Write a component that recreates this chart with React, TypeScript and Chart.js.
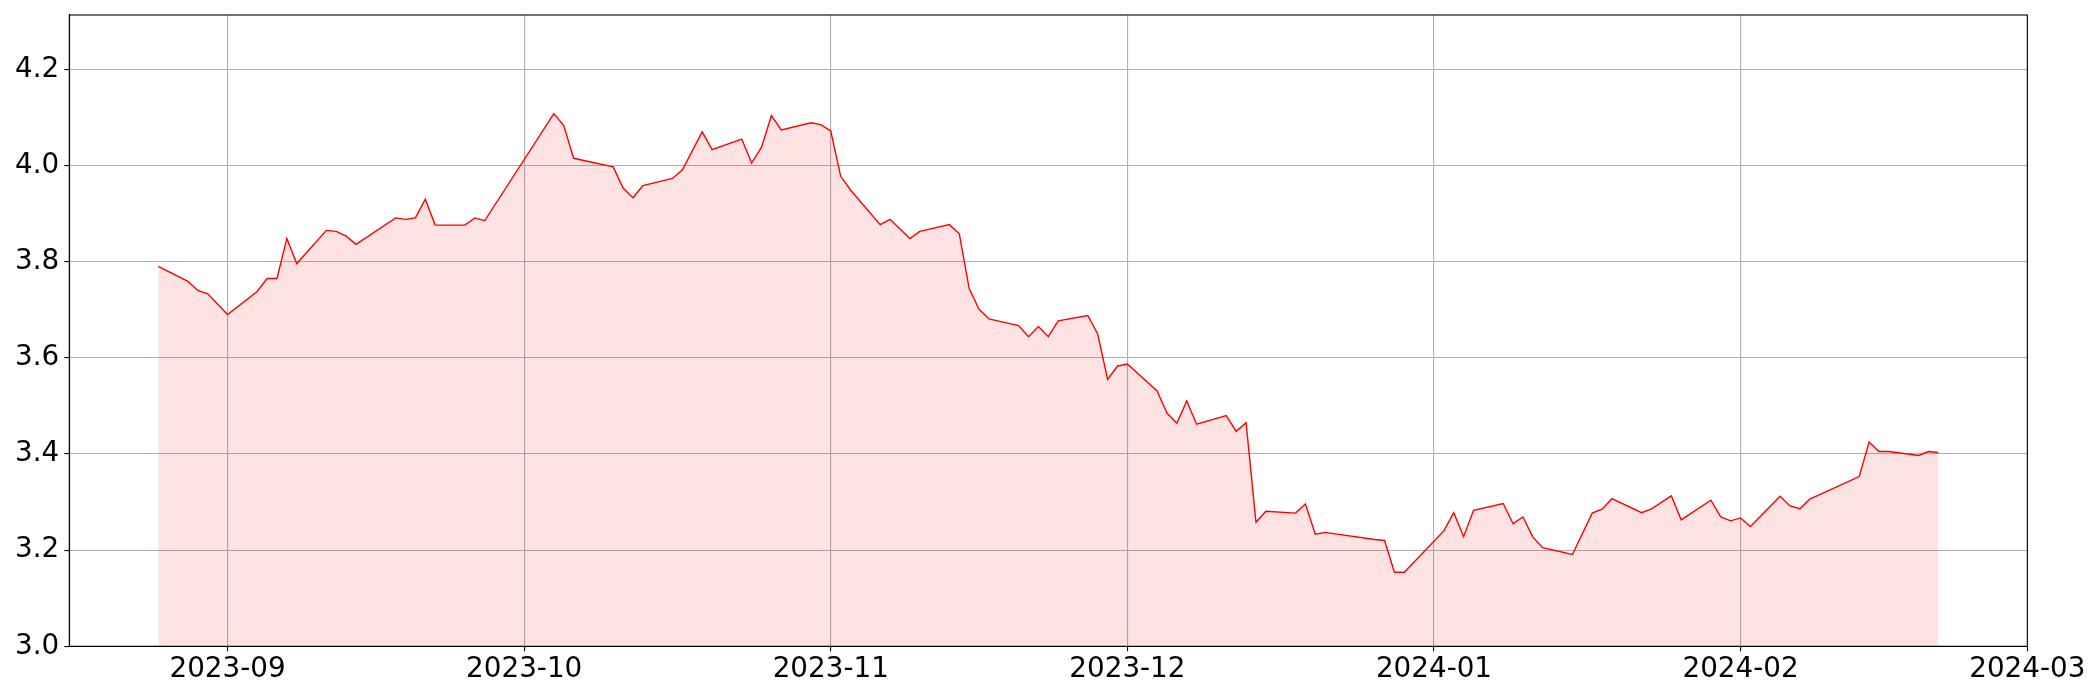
import React, { useEffect, useRef } from "react";
import { Chart, registerables } from "chart.js";

Chart.register(...registerables);

const dates: string[] = [
  "2023-08-25", "2023-08-28", "2023-08-29", "2023-08-30", "2023-09-01",
  "2023-09-04", "2023-09-05", "2023-09-06", "2023-09-07", "2023-09-08",
  "2023-09-11", "2023-09-12", "2023-09-13", "2023-09-14", "2023-09-18",
  "2023-09-19", "2023-09-20", "2023-09-21", "2023-09-22", "2023-09-25",
  "2023-09-26", "2023-09-27", "2023-10-04", "2023-10-05", "2023-10-06",
  "2023-10-10", "2023-10-11", "2023-10-12", "2023-10-13", "2023-10-16",
  "2023-10-17", "2023-10-19", "2023-10-20", "2023-10-23", "2023-10-24",
  "2023-10-25", "2023-10-26", "2023-10-27", "2023-10-30", "2023-10-31",
  "2023-11-01", "2023-11-02", "2023-11-03", "2023-11-06", "2023-11-07",
  "2023-11-09", "2023-11-10", "2023-11-13", "2023-11-14", "2023-11-15",
  "2023-11-16", "2023-11-17", "2023-11-20", "2023-11-21", "2023-11-22",
  "2023-11-23", "2023-11-24", "2023-11-27", "2023-11-28", "2023-11-29",
  "2023-11-30", "2023-12-01", "2023-12-04", "2023-12-05", "2023-12-06",
  "2023-12-07", "2023-12-08", "2023-12-11", "2023-12-12", "2023-12-13",
  "2023-12-14", "2023-12-15", "2023-12-18", "2023-12-19", "2023-12-20",
  "2023-12-21", "2023-12-26", "2023-12-27", "2023-12-28", "2023-12-29",
  "2024-01-02", "2024-01-03", "2024-01-04", "2024-01-05", "2024-01-08",
  "2024-01-09", "2024-01-10", "2024-01-11", "2024-01-12", "2024-01-15",
  "2024-01-17", "2024-01-18", "2024-01-19", "2024-01-22", "2024-01-23",
  "2024-01-25", "2024-01-26", "2024-01-29", "2024-01-30", "2024-01-31",
  "2024-02-01", "2024-02-02", "2024-02-05", "2024-02-06", "2024-02-07",
  "2024-02-08", "2024-02-13", "2024-02-14", "2024-02-15", "2024-02-16",
  "2024-02-19", "2024-02-20", "2024-02-21",
];

const values: number[] = [
  3.790, 3.759, 3.740, 3.733, 3.690,
  3.738, 3.765, 3.765, 3.848, 3.796,
  3.865, 3.863, 3.853, 3.836, 3.891,
  3.888, 3.891, 3.930, 3.876, 3.876,
  3.891, 3.885, 4.108, 4.083, 4.015,
  3.997, 3.953, 3.933, 3.958, 3.973,
  3.991, 4.070, 4.033, 4.055, 4.005,
  4.038, 4.104, 4.074, 4.089, 4.085,
  4.072, 3.978, 3.949, 3.877, 3.888,
  3.848, 3.863, 3.877, 3.858, 3.744,
  3.701, 3.681, 3.667, 3.644, 3.665,
  3.644, 3.677, 3.688, 3.649, 3.555,
  3.583, 3.587, 3.531, 3.485, 3.464,
  3.510, 3.462, 3.480, 3.447, 3.465,
  3.258, 3.281, 3.277, 3.296, 3.233,
  3.237, 3.222, 3.220, 3.154, 3.154,
  3.240, 3.278, 3.228, 3.283, 3.297,
  3.255, 3.269, 3.227, 3.205, 3.191,
  3.277, 3.285, 3.307, 3.278, 3.286,
  3.313, 3.263, 3.304, 3.269, 3.261,
  3.267, 3.249, 3.312, 3.292, 3.286,
  3.306, 3.353, 3.425, 3.405, 3.405,
  3.397, 3.405, 3.403,
];

const xTickLabels: string[] = [
  "2023-09", "2023-10", "2023-11", "2023-12", "2024-01", "2024-02", "2024-03",
];

const yTickValues: number[] = [3.0, 3.2, 3.4, 3.6, 3.8, 4.0, 4.2];

const DAY = 86400000;
const toDay = (s: string): number => {
  const [y, m, d] = s.split("-").map(Number);
  return Date.UTC(y, m - 1, d || 1) / DAY;
};
const fromDay = (v: number): string => {
  const dt = new Date(Math.round(v) * DAY);
  const mm = String(dt.getUTCMonth() + 1).padStart(2, "0");
  return `${dt.getUTCFullYear()}-${mm}`;
};

const frame = {
  id: "frame",
  afterDraw(chart: any) {
    const { ctx } = chart;
    const xs = chart.scales.x;
    const ys = chart.scales.y;
    ctx.save();
    ctx.strokeStyle = "#000";
    ctx.lineWidth = 1.1;
    ctx.strokeRect(xs.left, ys.top, xs.right - xs.left, ys.bottom - ys.top);
    ctx.restore();
  },
};

export default function App() {
  const ref = useRef<HTMLCanvasElement | null>(null);

  useEffect(() => {
    document.body.style.margin = "0";
    const canvas = ref.current;
    if (!canvas) return;
    const xs = dates.map(toDay);
    const span = xs[xs.length - 1] - xs[0];
    const xMin = xs[0] - span * 0.05;
    const xMax = xs[xs.length - 1] + span * 0.05;
    const monthTicks = xTickLabels.map(toDay);
    const font = { family: "'DejaVu Sans'", size: 27.8 };

    const chart = new Chart(canvas, {
      type: "line",
      data: {
        datasets: [
          {
            data: xs.map((x, i) => ({ x, y: values[i] })),
            borderColor: "#ff0000",
            borderWidth: 1.4,
            backgroundColor: "rgba(255, 0, 0, 0.11)",
            fill: "origin",
            pointRadius: 0,
            tension: 0,
          },
        ],
      },
      options: {
        responsive: false,
        animation: false,
        devicePixelRatio: 1,
        layout: { padding: { left: 0, right: 72.7, top: 15, bottom: 0 } },
        plugins: {
          legend: { display: false },
          tooltip: { enabled: false },
        },
        scales: {
          x: {
            type: "linear",
            min: xMin,
            max: xMax,
            afterBuildTicks: (scale: any) => {
              scale.ticks = monthTicks.map((v) => ({ value: v }));
            },
            afterFit: (scale: any) => {
              scale.height = 53.7;
              scale.paddingLeft = 0;
              scale.paddingRight = 0;
              scale.paddingTop = 0;
              scale.paddingBottom = 0;
            },
            grid: {
              color: "#b0b0b0",
              lineWidth: 1.1,
              drawTicks: true,
              tickLength: 5,
              tickColor: "#000",
              tickWidth: 1.1,
            },
            border: { display: true, color: "#000", width: 1.1 },
            ticks: {
              color: "#000",
              font,
              padding: 2,
              maxRotation: 0,
              autoSkip: false,
              callback: (v: any) => fromDay(Number(v)),
            },
          },
          y: {
            type: "linear",
            min: 3.0,
            max: 4.313,
            afterBuildTicks: (scale: any) => {
              scale.ticks = yTickValues.map((v) => ({ value: v }));
            },
            afterFit: (scale: any) => {
              scale.width = 69.3;
              scale.paddingLeft = 0;
              scale.paddingRight = 0;
              scale.paddingTop = 0;
              scale.paddingBottom = 0;
            },
            grid: {
              color: "#b0b0b0",
              lineWidth: 1.1,
              drawTicks: true,
              tickLength: 5,
              tickColor: "#000",
              tickWidth: 1.1,
            },
            border: { display: true, color: "#000", width: 1.1 },
            ticks: {
              color: "#000",
              font,
              padding: 5,
              autoSkip: false,
              callback: (v: any) => Number(v).toFixed(1),
            },
          },
        },
      },
      plugins: [frame],
    } as any);

    return () => chart.destroy();
  }, []);

  return (
    <div style={{ width: 2100, height: 700 }}>
      <canvas ref={ref} width={2100} height={700} style={{ display: "block" }} />
    </div>
  );
}
